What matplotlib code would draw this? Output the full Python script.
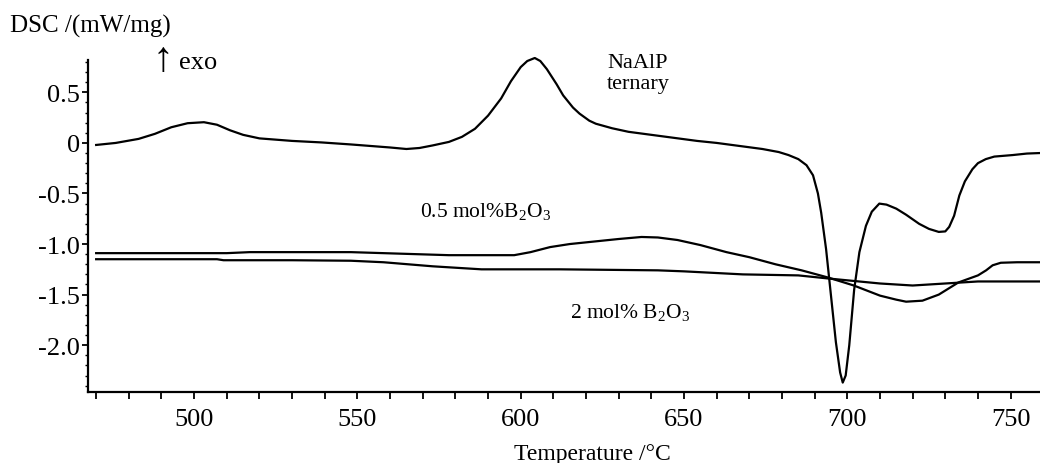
import numpy as np
import matplotlib
matplotlib.use("Agg")
import matplotlib.pyplot as plt
from matplotlib.ticker import MultipleLocator, FixedLocator, FixedFormatter

plt.rcParams['font.family'] = ['Liberation Serif', 'DejaVu Serif']
plt.rcParams['mathtext.fontset'] = 'custom'
plt.rcParams['mathtext.rm'] = 'Liberation Serif'

# NaAlP ternary
t_ternary = [470, 476, 483, 488, 493, 498, 503, 507, 511, 515, 520, 530, 539, 548, 554, 560,
             565, 569, 573, 578, 582, 586, 590, 594, 597, 600, 602, 604.3, 606, 608, 611, 613,
             616, 618, 621, 623, 628, 633, 640, 647, 654, 660, 667, 674, 679, 682, 685, 687.5,
             689.5, 691, 692, 693.5, 695, 696.5, 697.8, 698.6, 699.5, 700.6, 702.1, 703.7, 705.7,
             707.5, 709.8, 712, 715, 718, 722, 725, 728, 730, 731.2, 732.7, 734.3, 736, 738.3,
             740, 742.4, 745, 750.6, 755, 759]
dsc_ternary = [-0.02, 0.0, 0.04, 0.09, 0.155, 0.195, 0.205, 0.18, 0.125, 0.08, 0.045, 0.02,
               0.005, -0.015, -0.03, -0.045, -0.06, -0.05, -0.025, 0.01, 0.06, 0.14, 0.27, 0.44,
               0.61, 0.75, 0.81, 0.84, 0.81, 0.73, 0.58, 0.47, 0.35, 0.29, 0.22, 0.19, 0.145,
               0.11, 0.08, 0.05, 0.02, 0.0, -0.03, -0.06, -0.09, -0.12, -0.16, -0.22, -0.32,
               -0.5, -0.69, -1.05, -1.51, -1.97, -2.27, -2.37, -2.3, -2.0, -1.45, -1.08, -0.82,
               -0.68, -0.60, -0.61, -0.65, -0.71, -0.80, -0.85, -0.88, -0.875, -0.83, -0.72,
               -0.52, -0.38, -0.26, -0.2, -0.16, -0.135, -0.12, -0.105, -0.10]

# 0.5 mol% B2O3
t_b05 = [470, 490, 510, 517, 530, 548, 558, 578, 598, 603, 609, 615, 624, 630, 637, 642, 648,
         655, 663, 670, 678, 686, 694, 702, 710, 715, 718, 723, 728, 734, 740, 742.5, 744.5,
         747, 752, 759]
dsc_b05 = [-1.09, -1.09, -1.09, -1.08, -1.08, -1.08, -1.09, -1.11, -1.11, -1.08, -1.03, -1.0,
           -0.97, -0.95, -0.93, -0.935, -0.96, -1.01, -1.08, -1.13, -1.20, -1.26, -1.33, -1.41,
           -1.51, -1.55, -1.57, -1.56, -1.50, -1.38, -1.31, -1.26, -1.21, -1.185, -1.18, -1.18]

# 2 mol% B2O3
t_b2 = [470, 490, 507, 509, 530, 548, 558, 573, 588, 612, 642, 650, 668, 685, 694, 710, 720,
        730, 740, 759]
dsc_b2 = [-1.15, -1.15, -1.15, -1.16, -1.16, -1.165, -1.18, -1.22, -1.25, -1.25, -1.26, -1.27,
          -1.30, -1.31, -1.34, -1.39, -1.41, -1.39, -1.37, -1.37]

yticks = [0.5, 0, -0.5, -1.0, -1.5, -2.0]
ytick_labels = ["0.5", "0", "-0.5", "-1.0", "-1.5", "-2.0"]
xticks = [500, 550, 600, 650, 700, 750]

fig = plt.figure(figsize=(10.4, 4.64), dpi=100)
ax = fig.add_axes([0.0846, 0.1537, 0.9154, 0.7148])

for t, d in [(t_ternary, dsc_ternary), (t_b05, dsc_b05), (t_b2, dsc_b2)]:
    ax.plot(t, d, color='black', lw=1.6, clip_on=False)

ax.set_xlim(467.5, 759)
ax.set_ylim(-2.46, 0.82)
ax.spines['top'].set_visible(False)
ax.spines['right'].set_visible(False)
ax.spines['left'].set_linewidth(1.6)
ax.spines['bottom'].set_linewidth(1.6)

ax.xaxis.set_major_locator(FixedLocator(xticks))
ax.xaxis.set_minor_locator(MultipleLocator(10))
ax.yaxis.set_major_locator(FixedLocator(yticks))
ax.yaxis.set_major_formatter(FixedFormatter(ytick_labels))
ax.yaxis.set_minor_locator(MultipleLocator(0.1))
ax.tick_params(axis='x', which='both', direction='out', length=5, width=1.3, labelsize=19, pad=7)
ax.tick_params(axis='y', which='major', direction='out', length=4, width=1.3, labelsize=19, pad=2)
ax.tick_params(axis='y', which='minor', direction='out', length=2.5, width=1.0)

ax.set_xlabel("Temperature /°C", fontsize=17, labelpad=3)
ax.xaxis.set_label_coords(0.53, -0.155)

fig.text(10 / 1040, 1 - 26 / 464, "DSC /(mW/mg)", fontsize=18, ha='left', va='center')
fig.text(152 / 1040, 1 - 61 / 464, "↑", fontsize=30, ha='left', va='center')
fig.text(179 / 1040, 1 - 63 / 464, "exo", fontsize=19, ha='left', va='center')
fig.text(607 / 1040, 1 - 74 / 464, "NaAlP\nternary", fontsize=16, ha='left', va='center',
         linespacing=1.15)
fig.text(420 / 1040, 1 - 212 / 464, r"0.5 mol%B$_\mathrm{2}$O$_\mathrm{3}$", fontsize=15.5,
         ha='left', va='center')
fig.text(570 / 1040, 1 - 313 / 464, r"2 mol% B$_\mathrm{2}$O$_\mathrm{3}$", fontsize=15.5,
         ha='left', va='center')

fig.savefig("out.png", dpi=100)
